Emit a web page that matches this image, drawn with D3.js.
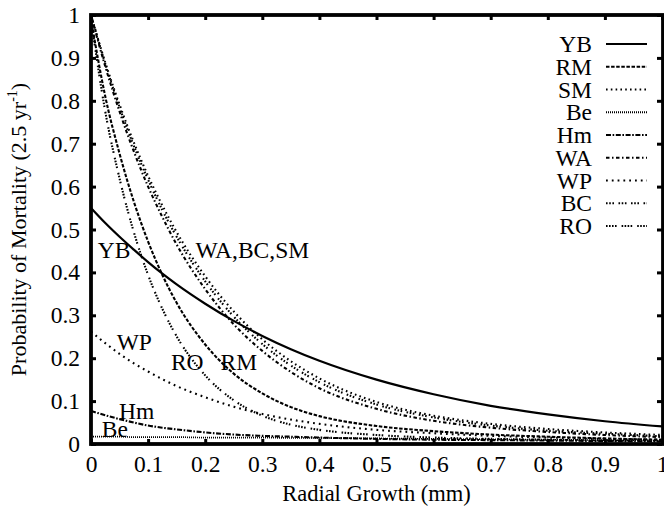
<!DOCTYPE html>
<html><head><meta charset="utf-8">
<script src="https://cdn.jsdelivr.net/npm/d3@7"></script>
<style>
html,body{margin:0;padding:0;background:#fff;}
text{font-family:"Liberation Serif","Times New Roman",serif;fill:#000;}
</style></head>
<body>
<svg id="chart" width="664" height="507"></svg>
<script>
// ---- data ----
const growth = [0, 0.025, 0.05, 0.075, 0.1, 0.125, 0.15, 0.2, 0.25, 0.3, 0.35, 0.4, 0.5, 0.6, 0.7, 0.8, 0.9, 1.0];
const YB = [0.550, 0.515, 0.483, 0.453, 0.424, 0.397, 0.372, 0.327, 0.287, 0.252, 0.221, 0.194, 0.150, 0.116, 0.089, 0.069, 0.053, 0.041];
const RM = [0.990, 0.810, 0.677, 0.565, 0.472, 0.394, 0.329, 0.232, 0.164, 0.118, 0.086, 0.065, 0.042, 0.030, 0.022, 0.017, 0.013, 0.010];
const SM = [1.000, 0.889, 0.791, 0.703, 0.625, 0.556, 0.494, 0.391, 0.309, 0.244, 0.193, 0.153, 0.098, 0.066, 0.047, 0.035, 0.027, 0.021];
const Be = [0.017, 0.017, 0.017, 0.016, 0.016, 0.016, 0.016, 0.015, 0.015, 0.015, 0.014, 0.014, 0.013, 0.012, 0.011, 0.010, 0.009, 0.008];
const Hm = [0.077, 0.067, 0.058, 0.050, 0.043, 0.038, 0.034, 0.027, 0.022, 0.019, 0.017, 0.015, 0.012, 0.010, 0.009, 0.008, 0.007, 0.006];
const WA = [1.000, 0.880, 0.775, 0.682, 0.600, 0.529, 0.465, 0.361, 0.279, 0.217, 0.168, 0.130, 0.082, 0.054, 0.038, 0.028, 0.021, 0.016];
const WP = [0.262, 0.235, 0.210, 0.188, 0.169, 0.151, 0.135, 0.109, 0.087, 0.070, 0.057, 0.047, 0.033, 0.025, 0.019, 0.015, 0.012, 0.010];
const BC = [1.000, 0.886, 0.785, 0.695, 0.616, 0.545, 0.483, 0.379, 0.297, 0.233, 0.183, 0.144, 0.092, 0.062, 0.043, 0.031, 0.024, 0.018];
const RO = [0.990, 0.775, 0.619, 0.494, 0.394, 0.315, 0.251, 0.160, 0.102, 0.066, 0.045, 0.033, 0.021, 0.015, 0.012, 0.010, 0.008, 0.007];

const seriesNames = ["YB", "RM", "SM", "Be", "Hm", "WA", "WP", "BC", "RO"];
const seriesValues = {YB, RM, SM, Be, Hm, WA, WP, BC, RO};
const xTicks = [0, 0.1, 0.2, 0.3, 0.4, 0.5, 0.6, 0.7, 0.8, 0.9, 1];
const yTicks = [0, 0.1, 0.2, 0.3, 0.4, 0.5, 0.6, 0.7, 0.8, 0.9, 1];
const xTitle = "Radial Growth (mm)";
const yTitle = "Probability of Mortality (2.5 yr";
const curveLabels = [
  {text: "YB", g: 0.012, p: 0.433},
  {text: "WA,BC,SM", g: 0.183, p: 0.433},
  {text: "WP", g: 0.045, p: 0.220},
  {text: "RO", g: 0.140, p: 0.172},
  {text: "RM", g: 0.227, p: 0.172},
  {text: "Hm", g: 0.049, p: 0.058},
  {text: "Be", g: 0.019, p: 0.016}
];

// ---- styles ----
const dash = {
  YB: null,
  RM: "3.5,1.6",
  SM: "1.6,3.2",
  Be: "1,1",
  Hm: "5,1.6,1.6,1.6",
  WA: "3.5,2.5,1.5,2.5",
  WP: "1.8,4",
  BC: "1.6,1.6,1.6,1.6,1.6,4.5",
  RO: "1.6,1.4,1.6,1.4,1.6,1.4,1.6,5"
};

const svg = d3.select("#chart");
const x = d3.scaleLinear().domain([0, 1]).range([91, 662]);
const y = d3.scaleLinear().domain([0, 1]).range([444, 15]);
const FS = 23.5;

// axes
const fmt = d => String(d);
const gx = svg.append("g").attr("transform", `translate(0,${y(0)})`)
  .call(d3.axisBottom(x).tickValues(xTicks).tickFormat(fmt).tickSize(-5).tickPadding(11));
const gy = svg.append("g").attr("transform", `translate(${x(0)},0)`)
  .call(d3.axisLeft(y).tickValues(yTicks).tickFormat(fmt).tickSize(-5).tickPadding(11));
const gt = svg.append("g").attr("transform", `translate(0,${y(1)})`)
  .call(d3.axisTop(x).tickValues(xTicks).tickFormat("").tickSize(-5));
const gr = svg.append("g").attr("transform", `translate(${x(1)},0)`)
  .call(d3.axisRight(y).tickValues(yTicks).tickFormat("").tickSize(-5));
[gx, gy, gt, gr].forEach(g => {
  g.select(".domain").remove();
  g.selectAll(".tick line").attr("stroke", "#000").attr("stroke-width", 3);
  g.selectAll(".tick text").attr("font-size", FS).attr("font-family", "Liberation Serif");
});

// curves
const line = d3.line().x((d, i) => x(growth[i])).y(d => y(d)).curve(d3.curveMonotoneX);
const plot = svg.append("g");
seriesNames.forEach(n => {
  plot.append("path").datum(seriesValues[n])
    .attr("d", line)
    .attr("fill", "none")
    .attr("stroke", "#000")
    .attr("stroke-width", n === "YB" ? 2.2 : (n === "Be" ? 1.7 : 2.1))
    .attr("stroke-dasharray", dash[n]);
});

// frame
svg.append("rect").attr("x", x(0)).attr("y", y(1))
  .attr("width", x(1) - x(0) + 1).attr("height", y(0) - y(1))
  .attr("fill", "none").attr("stroke", "#000").attr("stroke-width", 3.8);

// curve labels
svg.append("g").selectAll("text").data(curveLabels).join("text")
  .attr("x", d => x(d.g)).attr("y", d => y(d.p))
  .attr("font-size", FS).text(d => d.text);

// legend
const leg = svg.append("g");
seriesNames.forEach((n, i) => {
  const cy = 44 + i * 22.75;
  leg.append("text").attr("x", 592).attr("y", cy + 8)
    .attr("text-anchor", "end").attr("font-size", FS).text(n);
  leg.append("line").attr("x1", 606).attr("x2", 647).attr("y1", cy).attr("y2", cy)
    .attr("stroke", "#000").attr("stroke-width", 2.1).attr("stroke-dasharray", dash[n]);
});

// axis titles
svg.append("text").attr("x", (x(0) + x(1)) / 2).attr("y", 501)
  .attr("text-anchor", "middle").attr("font-size", 22.5).text(xTitle);
const yt = svg.append("text").attr("transform", `translate(26,${(y(0) + y(1)) / 2}) rotate(-90)`)
  .attr("text-anchor", "middle").attr("font-size", 22);
yt.append("tspan").text(yTitle);
yt.append("tspan").attr("font-size", 14).attr("dy", -9).text("-1");
yt.append("tspan").attr("dy", 9).text(")");
</script>
</body></html>
